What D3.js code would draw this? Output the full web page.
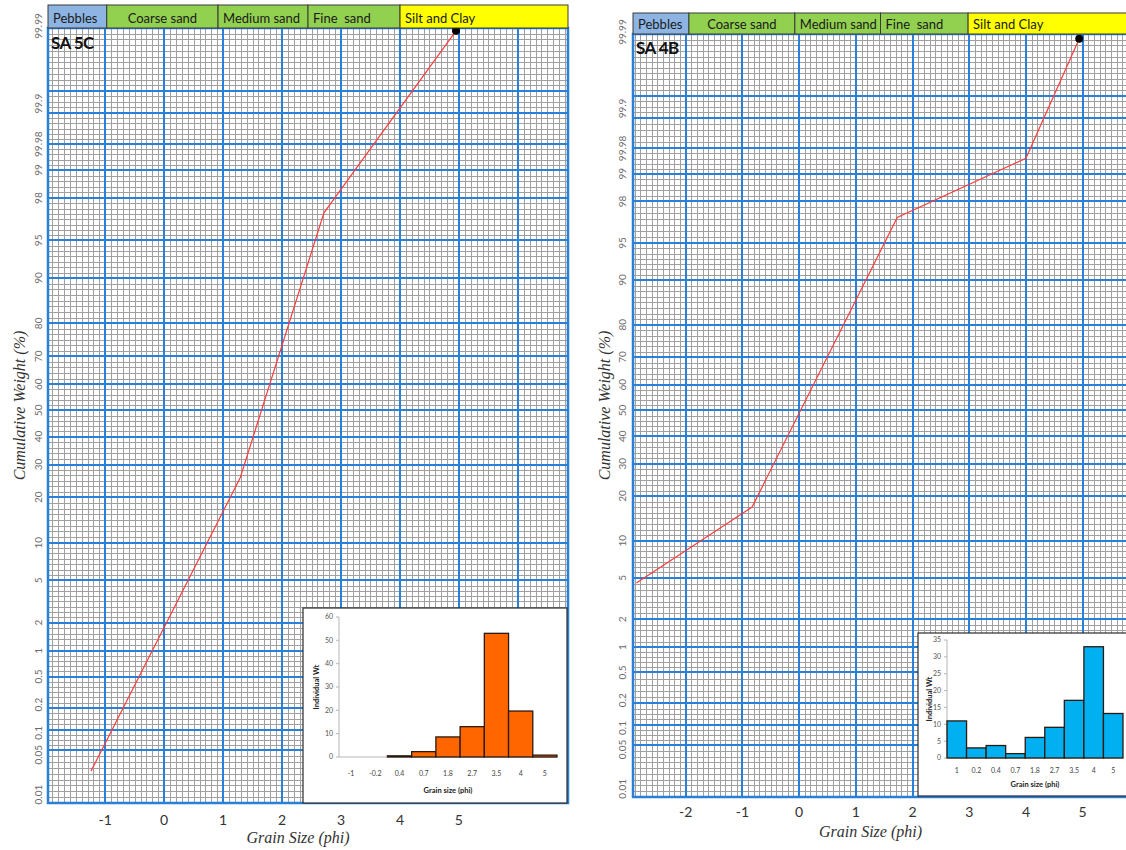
<!DOCTYPE html>
<html>
<head>
<meta charset="utf-8">
<script src="https://cdn.jsdelivr.net/npm/d3@7"></script>
<style>
  html, body { margin: 0; padding: 0; background: #fff; }
  svg { display: block; }
  .hdr { white-space: pre; }
</style>
</head>
<body>
<svg id="chart" width="1126" height="850"></svg>
<script>
// ---- probability-paper labelling ----
const probLabels  = ["99.99", "99.9", "99.98", "99", "98", "95", "90", "80", "70", "60", "50", "40", "30", "20", "10", "5", "2", "1", "0.5", "0.2", "0.1", "0.05", "0.01"];
const probLabelAt = [99.99, 99.85, 99.5, 99, 98, 95, 90, 80, 70, 60, 50, 40, 30, 20, 10, 5, 2, 1, 0.5, 0.22, 0.09, 0.043, 0.01];
const probMajor   = [0.05, 0.1, 0.2, 0.5, 1, 2, 5, 10, 20, 30, 40, 50, 60, 70, 80, 90, 95, 98, 99, 99.5, 99.8, 99.9];

// ---- grain-size classes along the top strip ----
const sizeClasses = ["Pebbles", "Coarse sand", "Medium sand", "Fine  sand", "Silt and Clay"];
const classColors = ["#8db4e2", "#92d050", "#92d050", "#92d050", "#ffff00"];

// ---- sample SA 5C ----
const sa5cPhi   = [-1.24, 1.29, 2.71, 4.95];
const sa5cCum   = [0.024, 25.7, 97.2, 99.988];
const sa5cBins  = ["-1", "-0.2", "0.4", "0.7", "1.8", "2.7", "3.5", "4", "5"];
const sa5cWt    = [0, 0, 0.5, 2.3, 8.6, 13, 53, 19.7, 0.8];
const sa5cTicks = [-1, 0, 1, 2, 3, 4, 5];

// ---- sample SA 4B ----
const sa4bPhi   = [-2.87, -0.83, 1.73, 4.0, 4.94];
const sa4bCum   = [4.5, 17.1, 97.1, 99.34, 99.987];
const sa4bBins  = ["1", "0.2", "0.4", "0.7", "1.8", "2.7", "3.5", "4", "5"];
const sa4bWt    = [11, 3, 3.7, 1.3, 6.1, 9.1, 17.1, 33, 13.2];
const sa4bTicks = [-2, -1, 0, 1, 2, 3, 4, 5];

// inverse standard normal CDF (Acklam's rational approximation)
function probit(p) {
  const a = [-3.969683028665376e+01, 2.209460984245205e+02, -2.759285104469687e+02, 1.383577518672690e+02, -3.066479806614716e+01, 2.506628277459239e+00];
  const b = [-5.447609879822406e+01, 1.615858368580409e+02, -1.556989798598866e+02, 6.680131188771972e+01, -1.328068155288572e+01];
  const c = [-7.784894002430293e-03, -3.223964580411365e-01, -2.400758277161838e+00, -2.549732539343734e+00, 4.374664141464968e+00, 2.938163982698783e+00];
  const d = [7.784695709041462e-03, 3.224671290700398e-01, 2.445134137142996e+00, 3.754408661907416e+00];
  const lo = 0.02425, hi = 1 - lo;
  let q, r;
  if (p < lo) {
    q = Math.sqrt(-2 * Math.log(p));
    return (((((c[0]*q+c[1])*q+c[2])*q+c[3])*q+c[4])*q+c[5]) / ((((d[0]*q+d[1])*q+d[2])*q+d[3])*q+1);
  }
  if (p <= hi) {
    q = p - 0.5; r = q * q;
    return (((((a[0]*r+a[1])*r+a[2])*r+a[3])*r+a[4])*r+a[5])*q / (((((b[0]*r+b[1])*r+b[2])*r+b[3])*r+b[4])*r+1);
  }
  q = Math.sqrt(-2 * Math.log(1 - p));
  return -(((((c[0]*q+c[1])*q+c[2])*q+c[3])*q+c[4])*q+c[5]) / ((((d[0]*q+d[1])*q+d[2])*q+d[3])*q+1);
}

const svg = d3.select("#chart");
const BLUE = "#2a7fd6";
const MINOR = "#a0a0a0";
const SANS = "Lato, 'Open Sans', sans-serif";
const SERIF = "'Liberation Serif', 'DejaVu Serif', serif";

const panels = [
  {
    name: "SA 5C", phi: sa5cPhi, cum: sa5cCum, bins: sa5cBins, wt: sa5cWt, ticks: sa5cTicks,
    left: 48, right: 568, headTop: 5, top: 28, bottom: 803, phiDomain: [-1.97, 6.85],
    titleY: 49, yLabelX: 38, yTitleX: 19, xLabelY: 820, xTitleY: 837,
    inset: { x: 303, y: 608, w: 264, h: 195, ax0: 339, ax1: 557, y0: 757, y1: 617, yMax: 60, yStep: 10,
             fill: "#ff6600", xLabY: 774, xTitY: 790, yTitX: 316 }
  },
  {
    name: "SA 4B", phi: sa4bPhi, cum: sa4bCum, bins: sa4bBins, wt: sa4bWt, ticks: sa4bTicks,
    left: 633, right: 1128, headTop: 13, top: 34, bottom: 797, phiDomain: [-2.93, 5.80],
    titleY: 54, yLabelX: 622, yTitleX: 604, xLabelY: 812, xTitleY: 831,
    inset: { x: 918, y: 633, w: 215, h: 163, ax0: 947, ax1: 1123, y0: 758, y1: 640, yMax: 35, yStep: 5,
             fill: "#00b0f0", xLabY: 771, xTitY: 784, yTitX: 929 }
  }
];

const classBreaks = [0, 0.113, 0.327, 0.5, 0.677, 1];

panels.forEach(P => {
  const g = svg.append("g");
  const x = d3.scaleLinear().domain(P.phiDomain).range([P.left, P.right]);
  const y = d3.scaleLinear().domain([-3.8, 3.7]).range([P.bottom, P.top]);
  const yP = v => y(probit(v / 100));

  // clip for the grid
  const clipId = "clip" + P.name.replace(/\s/g, "");
  svg.append("defs").append("clipPath").attr("id", clipId)
    .append("rect").attr("x", P.left).attr("y", P.top).attr("width", P.right - P.left).attr("height", P.bottom - P.top);
  const grid = g.append("g").attr("clip-path", `url(#${clipId})`).attr("shape-rendering", "crispEdges");

  // minor vertical lines every 0.1 phi
  const vMinor = d3.range(Math.ceil(P.phiDomain[0] * 10), Math.floor(P.phiDomain[1] * 10) + 1)
    .map(k => k / 10).filter(v => Math.abs(v - Math.round(v)) > 1e-6);
  grid.selectAll(".vminor").data(vMinor).join("line")
    .attr("x1", d => Math.round(x(d)) + 0.5).attr("x2", d => Math.round(x(d)) + 0.5)
    .attr("y1", P.top).attr("y2", P.bottom)
    .attr("stroke", MINOR).attr("stroke-width", 1);

  // minor horizontal lines: even subdivisions between the major probability lines
  const bounds = [-3.8].concat(probMajor.map(v => probit(v / 100))).concat([3.7]);
  const hMinor = [];
  for (let i = 0; i < bounds.length - 1; i++) {
    const a = bounds[i], b = bounds[i + 1];
    const n = Math.max(2, Math.round(Math.abs(y(a) - y(b)) / 5.6));
    for (let k = 1; k < n; k++) hMinor.push(a + (b - a) * k / n);
  }
  grid.selectAll(".hminor").data(hMinor).join("line")
    .attr("x1", P.left).attr("x2", P.right)
    .attr("y1", d => Math.round(y(d)) + 0.5).attr("y2", d => Math.round(y(d)) + 0.5)
    .attr("stroke", MINOR).attr("stroke-width", 1);

  // major blue lines
  const vMajor = d3.range(Math.ceil(P.phiDomain[0]), Math.floor(P.phiDomain[1]) + 1);
  grid.selectAll(".vmajor").data(vMajor).join("line")
    .attr("x1", d => Math.round(x(d))).attr("x2", d => Math.round(x(d)))
    .attr("y1", P.top).attr("y2", P.bottom)
    .attr("stroke", BLUE).attr("stroke-width", 2);
  grid.selectAll(".hmajor").data(probMajor).join("line")
    .attr("x1", P.left).attr("x2", P.right)
    .attr("y1", d => Math.round(yP(d))).attr("y2", d => Math.round(yP(d)))
    .attr("stroke", BLUE).attr("stroke-width", 2);

  // plot frame
  g.append("rect").attr("x", P.left).attr("y", P.top)
    .attr("width", P.right - P.left).attr("height", P.bottom - P.top)
    .attr("fill", "none").attr("stroke", BLUE).attr("stroke-width", 2.5);

  // cumulative curve
  const pts = P.phi.map((v, i) => [x(v), yP(P.cum[i])]);
  g.append("path").attr("d", d3.line()(pts))
    .attr("fill", "none").attr("stroke", "#ff3b3b").attr("stroke-width", 1.2);
  const last = pts[pts.length - 1];
  g.append("circle").attr("cx", last[0]).attr("cy", last[1]).attr("r", 4).attr("fill", "#000");

  // sample name
  g.append("text").attr("x", P.left + 3).attr("y", P.titleY)
    .attr("font-family", SANS).attr("font-weight", "bold").attr("font-size", 17)
    .attr("letter-spacing", -0.6).attr("fill", "#111").text(P.name);

  // grain-size class strip
  const w = P.right - P.left;
  sizeClasses.forEach((c, i) => {
    const x0 = P.left + w * classBreaks[i], x1 = P.left + w * classBreaks[i + 1];
    g.append("rect").attr("x", x0).attr("y", P.headTop).attr("width", x1 - x0).attr("height", P.top - P.headTop)
      .attr("fill", classColors[i]).attr("stroke", "#3a3a3a").attr("stroke-width", 1);
    const centred = c === "Coarse sand";
    g.append("text").attr("class", "hdr")
      .attr("x", centred ? (x0 + x1) / 2 : x0 + 5)
      .attr("y", P.top - 5)
      .attr("text-anchor", centred ? "middle" : "start")
      .attr("font-family", SANS).attr("font-size", 13).attr("fill", "#1a1a1a").text(c);
  });

  // probability labels (rotated)
  probLabels.forEach((lab, i) => {
    const yy = yP(probLabelAt[i]);
    g.append("text")
      .attr("transform", `translate(${P.yLabelX},${yy}) rotate(-90)`)
      .attr("text-anchor", "middle").attr("dy", "0.35em")
      .attr("font-family", SANS).attr("font-size", 10).attr("fill", "#6a6a6a").text(lab);
  });

  // phi tick labels
  g.selectAll(".xt").data(P.ticks).join("text")
    .attr("x", d => x(d)).attr("y", P.xLabelY).attr("text-anchor", "middle").attr("dy", "0.35em")
    .attr("font-family", SANS).attr("font-size", 14).attr("fill", "#333").text(d => d);

  // axis titles
  g.append("text").attr("x", (P.left + P.right) / 2 - 10).attr("y", P.xTitleY).attr("text-anchor", "middle")
    .attr("dy", "0.35em").attr("font-family", SERIF).attr("font-style", "italic").attr("font-size", 16)
    .attr("fill", "#333").text("Grain Size (phi)");
  g.append("text")
    .attr("transform", `translate(${P.yTitleX},${(P.top + P.bottom) / 2 - 10}) rotate(-90)`)
    .attr("text-anchor", "middle").attr("dy", "0.35em")
    .attr("font-family", SERIF).attr("font-style", "italic").attr("font-size", 16)
    .attr("fill", "#333").text("Cumulative Weight (%)");

  // ---- histogram inset ----
  const I = P.inset;
  const ig = g.append("g");
  ig.append("rect").attr("x", I.x).attr("y", I.y).attr("width", I.w).attr("height", I.h)
    .attr("fill", "#fff").attr("stroke", "#2b2b2b").attr("stroke-width", 1.2);
  const bx = d3.scaleBand().domain(P.bins.map((b, i) => i)).range([I.ax0, I.ax1]).padding(0);
  const by = d3.scaleLinear().domain([0, I.yMax]).range([I.y0, I.y1]);

  ig.append("line").attr("x1", I.ax0).attr("x2", I.ax0).attr("y1", I.y0).attr("y2", I.y1)
    .attr("stroke", "#b5b5b5").attr("stroke-width", 1);
  ig.append("line").attr("x1", I.ax0).attr("x2", I.ax1).attr("y1", I.y0).attr("y2", I.y0)
    .attr("stroke", "#b5b5b5").attr("stroke-width", 1);
  const yt = d3.range(0, I.yMax + 0.001, I.yStep);
  ig.selectAll(".ytk").data(yt).join("line")
    .attr("x1", I.ax0 - 3).attr("x2", I.ax0).attr("y1", d => by(d)).attr("y2", d => by(d))
    .attr("stroke", "#b5b5b5");
  ig.selectAll(".ytl").data(yt).join("text")
    .attr("x", I.ax0 - 6).attr("y", d => by(d)).attr("dy", "0.35em").attr("text-anchor", "end")
    .attr("font-family", SANS).attr("font-size", 7).attr("fill", "#555").text(d => d);

  ig.selectAll(".bar").data(P.wt).join("rect")
    .attr("x", (d, i) => bx(i)).attr("width", bx.bandwidth())
    .attr("y", d => by(d)).attr("height", d => by(0) - by(d))
    .attr("fill", I.fill).attr("stroke", "#2a1a10").attr("stroke-width", 1.3);

  ig.selectAll(".xtl").data(P.bins).join("text")
    .attr("x", (d, i) => bx(i) + bx.bandwidth() / 2).attr("y", I.xLabY).attr("dy", "0.35em")
    .attr("text-anchor", "middle").attr("font-family", SANS).attr("font-size", 7).attr("fill", "#444").text(d => d);
  ig.append("text").attr("x", (I.ax0 + I.ax1) / 2).attr("y", I.xTitY).attr("dy", "0.35em")
    .attr("text-anchor", "middle").attr("font-family", SANS).attr("font-size", 7.5).attr("font-weight", "bold")
    .attr("fill", "#222").text("Grain size (phi)");
  ig.append("text")
    .attr("transform", `translate(${I.yTitX},${(I.y0 + I.y1) / 2}) rotate(-90)`)
    .attr("text-anchor", "middle").attr("dy", "0.35em")
    .attr("font-family", SANS).attr("font-size", 7.5).attr("font-weight", "bold")
    .attr("fill", "#222").text("Individual Wt");
});
</script>
</body>
</html>
